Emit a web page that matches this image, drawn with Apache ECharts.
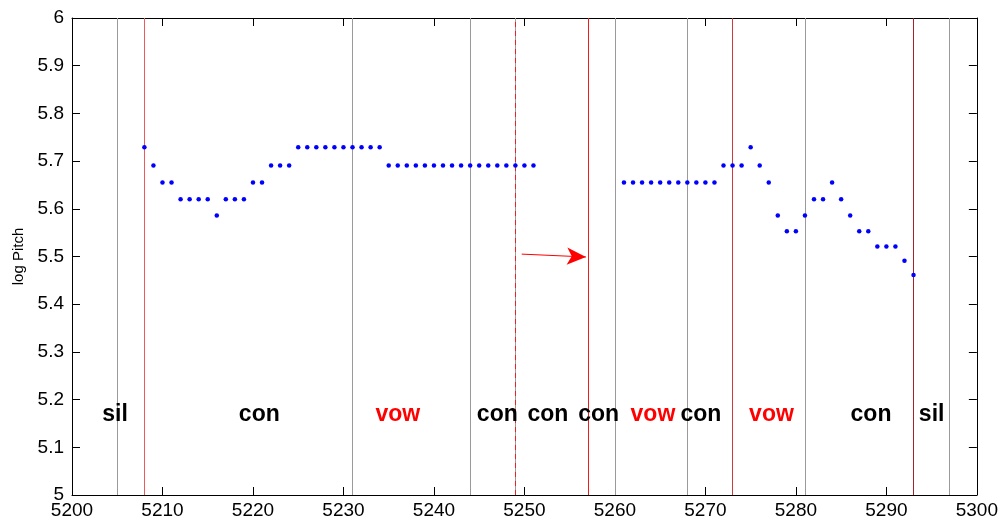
<!DOCTYPE html>
<html>
<head>
<meta charset="utf-8">
<script src="https://cdn.jsdelivr.net/npm/echarts@6/dist/echarts.min.js"></script>
<style>
  html, body { margin: 0; padding: 0; background: #fff; }
  #chart { width: 1001px; height: 522px; }
</style>
</head>
<body>
<div id="chart"></div>
<script>
// Frame indices and their log-pitch estimates (voiced frames only)
const frames = [
  5208, 5209, 5210, 5211, 5212, 5213, 5214, 5215, 5216, 5217, 5218, 5219, 5220, 5221, 5222, 5223, 5224,
  5225, 5226, 5227, 5228, 5229, 5230, 5231, 5232, 5233, 5234,
  5235, 5236, 5237, 5238, 5239, 5240, 5241, 5242, 5243, 5244, 5245, 5246, 5247, 5248, 5249, 5250, 5251,
  5261, 5262, 5263, 5264, 5265, 5266, 5267, 5268, 5269, 5270, 5271,
  5272, 5273, 5274, 5275, 5276, 5277, 5278, 5279, 5280, 5281, 5282, 5283, 5284, 5285, 5286,
  5287, 5288, 5289, 5290, 5291, 5292, 5293
];
const logPitch = [
  5.729, 5.691, 5.655, 5.655, 5.620, 5.620, 5.620, 5.620, 5.586, 5.620, 5.620, 5.620, 5.655, 5.655, 5.691, 5.691, 5.691,
  5.729, 5.729, 5.729, 5.729, 5.729, 5.729, 5.729, 5.729, 5.729, 5.729,
  5.691, 5.691, 5.691, 5.691, 5.691, 5.691, 5.691, 5.691, 5.691, 5.691, 5.691, 5.691, 5.691, 5.691, 5.691, 5.691, 5.691,
  5.655, 5.655, 5.655, 5.655, 5.655, 5.655, 5.655, 5.655, 5.655, 5.655, 5.655,
  5.691, 5.691, 5.691, 5.729, 5.691, 5.655, 5.586, 5.553, 5.553, 5.586, 5.620, 5.620, 5.655, 5.620, 5.586,
  5.553, 5.553, 5.521, 5.521, 5.521, 5.491, 5.461
];

// Segment boundaries
const grayBounds = [5205, 5231, 5244, 5249, 5260, 5268, 5281, 5297];
const redBounds = [5208, 5257, 5273, 5293];
const redBoundColors = ['#ec5a5c', '#ee1c1c', '#cc3c3c', '#a8202c'];
const dashedBounds = [5249];

// Segment class labels
const segNames = ['sil', 'con', 'vow', 'con', 'con', 'con', 'vow', 'con', 'vow', 'con', 'sil'];
const segX = [5204.75, 5220.7, 5236.0, 5247.0, 5252.6, 5258.2, 5264.2, 5269.5, 5277.3, 5288.3, 5295.0];
const segY = 5.168;

// Arrow marker pointing to the boundary at 5257
const arrowFrom = [5249.7, 5.505];
const arrowTo = [5256.8, 5.499];

const FONT = 'Liberation Sans, Arial, sans-serif';

const chart = echarts.init(document.getElementById('chart'), null, { renderer: 'canvas' });

const points = frames.map((f, i) => [f, logPitch[i]]);
const labelsOf = kind => segNames
  .map((n, i) => ({ name: n, value: [segX[i], segY] }))
  .filter(d => (kind === 'vow') === (d.name === 'vow'));

const boundarySeries = (xs, color, type, z) => ({
  type: 'line', data: [], silent: true, z: z,
  markLine: {
    silent: true, animation: false,
    symbol: ['none', 'none'], label: { show: false },
    lineStyle: { color: color, width: 1, type: type, opacity: 1 },
    emphasis: { disabled: true },
    data: xs.map(x => ({ xAxis: x }))
  }
});

// scatter items default to 0.8 opacity; labels inherit it, so force 1
const labelSeries = (kind, color) => ({
  type: 'scatter', data: labelsOf(kind), symbolSize: 0, silent: true, z: 6,
  itemStyle: { color: color, opacity: 1 },
  label: {
    show: true, position: [0, 0], color: color, opacity: 1,
    textBorderWidth: 0,
    formatter: p => p.name,
    fontFamily: FONT, fontSize: 23, fontWeight: 'bold',
    align: 'center', verticalAlign: 'middle'
  }
});

const axisCommon = {
  axisLine: { show: true, lineStyle: { color: '#000', width: 1 } },
  axisTick: { show: true, inside: true, length: 8, lineStyle: { color: '#000' } },
  splitLine: { show: false }
};

chart.setOption({
  animation: false,
  backgroundColor: '#fff',
  grid: { left: 72, right: 24, top: 18, bottom: 27, containLabel: false },
  xAxis: [
    Object.assign({
      type: 'value', min: 5200, max: 5300, interval: 10,
      axisLabel: { color: '#000', fontFamily: FONT, fontSize: 19, margin: 6, formatter: v => String(v) }
    }, axisCommon),
    Object.assign({
      type: 'value', position: 'top', min: 5200, max: 5300, interval: 10,
      axisLabel: { show: false }
    }, axisCommon)
  ],
  yAxis: [
    Object.assign({
      type: 'value', min: 5, max: 6, interval: 0.1,
      name: 'log Pitch', nameLocation: 'middle', nameRotate: 90, nameGap: 46,
      nameTextStyle: { color: '#000', fontFamily: FONT, fontSize: 15 },
      axisLabel: {
        color: '#000', fontFamily: FONT, fontSize: 19, margin: 8,
        formatter: v => String(Math.round(v * 10) / 10)
      }
    }, axisCommon),
    Object.assign({
      type: 'value', position: 'right', min: 5, max: 6, interval: 0.1,
      axisLabel: { show: false }
    }, axisCommon)
  ],
  series: [
    boundarySeries(grayBounds, '#9a9a9a', 'solid', 1),
    boundarySeries(dashedBounds, '#ee2020', [5, 4], 2),
    ...redBounds.map((x, i) => boundarySeries([x], redBoundColors[i], 'solid', 3)),
    {
      type: 'scatter', name: 'log Pitch', data: points,
      symbol: 'circle', symbolSize: 4.5,
      itemStyle: { color: '#0000ff', opacity: 1 },
      silent: true,
      z: 5,
      markLine: {
        silent: true, animation: false,
        symbol: ['none', 'arrow'], symbolSize: [13, 19],
        label: { show: false },
        lineStyle: { color: '#ff0000', width: 1, type: 'solid', opacity: 1 },
        data: [[{ coord: arrowFrom }, { coord: arrowTo }]]
      }
    },
    labelSeries('other', '#000000'),
    labelSeries('vow', '#ff0000')
  ]
});
</script>
</body>
</html>
